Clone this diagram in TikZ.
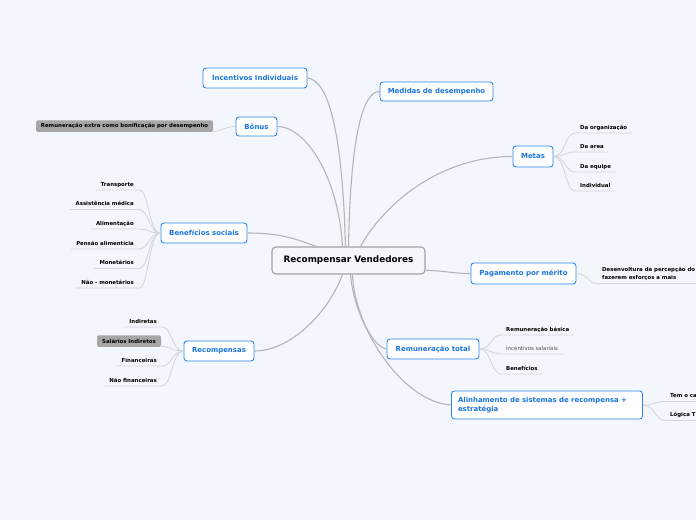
\documentclass[tikz,border=0pt]{standalone}
\usepackage{fontspec}
\setmainfont{DejaVu Sans}
\usetikzlibrary{calc}
\definecolor{bg}{RGB}{243,246,253}
\definecolor{topicblue}{RGB}{24,116,220}
\definecolor{borderblue}{RGB}{45,135,235}
\definecolor{connc}{RGB}{180,180,186}
\definecolor{leafc}{RGB}{212,214,222}
\definecolor{graybox}{RGB}{166,166,166}
\definecolor{cenborder}{RGB}{160,160,166}
\begin{document}
\begin{tikzpicture}[x=1pt,y=-1pt,
  topic/.style={draw=borderblue, line width=0.9pt, fill=white, rounded corners=3pt,
    text=topicblue, font=\fontsize{6.95}{8.6}\selectfont\bfseries, inner sep=0pt},
  central/.style={draw=cenborder, line width=1.1pt, fill={rgb,255:red,246;green,247;blue,251},
    rounded corners=4pt, font=\fontsize{8.85}{10}\selectfont\bfseries, inner sep=0pt,
    minimum width=153pt, minimum height=27pt},
  leaf/.style={font=\fontsize{5.4}{7.8}\selectfont\bfseries, text height=4pt, text depth=1.2pt,
    inner xsep=5pt, inner ysep=2.5pt},
  grayleaf/.style={fill=graybox, rounded corners=1.5pt, font=\fontsize{5.4}{6}\selectfont\bfseries,
    inner sep=0pt},
  conn/.style={draw=connc, line width=1.1pt},
  lconn/.style={draw=leafc, line width=0.9pt}
]
\useasboundingbox (0,0) rectangle (696,520);
\clip (0,0) rectangle (696,520);
\fill[bg] (0,0) rectangle (696,520);

% central
\node[central] (cen) at (348.5,260.5) {Recompensar Vendedores};
\coordinate (ctop) at ($(cen.north)+(-3,0)$);
\coordinate (ctopl) at ($(cen.north)+(-6,0)$);
\coordinate (ctopr) at ($(cen.north)+(0,0)$);
\coordinate (cben) at ($(cen.north west)+(45,0)$);
\coordinate (cmet) at ($(cen.north)+(12,0)$);
\coordinate (cright) at ($(cen.east)+(0,10)$);
\coordinate (cbot) at ($(cen.south)+(2,0)$);
\coordinate (cbotl) at ($(cen.south)+(-6,0)$);
\coordinate (cbotr) at ($(cen.south)+(4,0)$);

% topics
\node[topic, minimum width=104pt, minimum height=20pt] (inc) at (255,78) {Incentivos Individuais};
\node[topic, minimum width=113pt, minimum height=19pt] (med) at (436.5,91.5) {Medidas de desempenho};
\node[topic, minimum width=41pt, minimum height=19pt] (bon) at (256.5,126.5) {Bônus};
\node[topic, minimum width=40pt, minimum height=21pt] (met) at (533,156.5) {Metas};
\node[topic, minimum width=86pt, minimum height=20pt] (ben) at (204,233) {Benefícios sociais};
\node[topic, minimum width=105pt, minimum height=21pt] (pag) at (523.5,273.5) {Pagamento por mérito};
\node[topic, minimum width=70pt, minimum height=20pt] (rec) at (219,351) {Recompensas};
\node[topic, minimum width=92pt, minimum height=20pt] (rem) at (433,349) {Remuneração total};
\node[topic, minimum width=191pt, minimum height=28pt, align=left, text width=178pt] (ali) at (547,405)
  {Alinhamento de sistemas de recompensa +\\estratégia};

% main connectors
\draw[conn] (inc.east) .. controls +(22,2) and +(-3,-110) .. (ctop);
\draw[conn] (med.west) .. controls +(-18,0) and +(2,-105) .. (ctopr);
\draw[conn] (bon.east) .. controls +(28,0) and +(-4,-70) .. (ctopl);
\draw[conn] (ben.east) .. controls +(32,0) and +(-22,-8) .. (cben);
\draw[conn] (met.west) .. controls +(-75,0) and +(22,-40) .. (cmet);
\draw[conn] (cright) .. controls +(20,0) and +(-20,0) .. (pag.west);
\draw[conn] (rec.east) .. controls +(35,0) and +(-15,40) .. (cbotl);
\draw[conn] (rem.west) .. controls +(-14,-2) and +(3,35) .. (cbot);
\draw[conn] (ali.west) .. controls +(-48,-3) and +(2,55) .. (cbotr);

% Bonus leaf
\node[grayleaf, minimum width=177pt, minimum height=11.5pt] (bl) at (124.5,126) {Remuneração extra como bonificação por desempenho};
\draw[lconn] (bon.west) .. controls +(-10,0) and +(8,0) .. ($(bl.south east)+(0,-0.5)$);

% Metas leaves
\node[leaf, anchor=south west] (m1) at (575,133) {Da organização};
\node[leaf, anchor=south west] (m2) at (575,152) {Da area};
\node[leaf, anchor=south west] (m3) at (575,172) {Da equipe};
\node[leaf, anchor=south west] (m4) at (575,191) {Individual};
\foreach \l in {m1,m2,m3,m4}{
  \draw[lconn] (met.east) .. controls +(12,0) and +(-10,0) .. (\l.south west) -- (\l.south east);
}

% Beneficios leaves
\node[leaf, anchor=south east] (b1) at (139,190) {Transporte};
\node[leaf, anchor=south east] (b2) at (139,209.5) {Assistência médica};
\node[leaf, anchor=south east] (b3) at (139,229) {Alimentação};
\node[leaf, anchor=south east] (b4) at (139,249) {Pensão alimentícia};
\node[leaf, anchor=south east] (b5) at (139,268.5) {Monetários};
\node[leaf, anchor=south east] (b6) at (139,288) {Não - monetários};
\foreach \l in {b1,b2,b3,b4,b5,b6}{
  \draw[lconn] (ben.west) .. controls +(-12,0) and +(10,0) .. (\l.south east) -- (\l.south west);
}

% Recompensas leaves
\node[leaf, anchor=south east] (r1) at (162,327) {Indiretas};
\node[grayleaf, minimum width=64pt, minimum height=11.5pt] (r2) at (129,341) {Salários Indiretos};
\node[leaf, anchor=south east] (r3) at (162,366) {Financeiras};
\node[leaf, anchor=south east] (r4) at (162,386) {Não financeiras};
\foreach \l in {r1,r3,r4}{
  \draw[lconn] (rec.west) .. controls +(-12,0) and +(10,0) .. (\l.south east) -- (\l.south west);
}
\draw[lconn] (rec.west) .. controls +(-12,0) and +(10,0) .. ($(r2.south east)+(0,-0.5)$);

% Pagamento leaf
\node[leaf, anchor=south west, text height=10pt, align=left] (p1) at (597,283.5)
  {Desenvoltura da percepção do\\fazerem esforços a mais};
\draw[lconn] (pag.east) .. controls +(12,0) and +(-10,0) .. (p1.south west) -- ($(p1.south west)+(120,0)$);

% Remuneracao total leaves
\node[leaf, anchor=south west] (t1) at (501,335) {Remuneração básica};
\node[leaf, anchor=south west, font=\fontsize{5.4}{6}\selectfont, text={rgb,255:red,80;green,80;blue,80}] (t2) at (501,354) {Incentivos salariais};
\node[leaf, anchor=south west] (t3) at (501,374) {Benefícios};
\foreach \l in {t1,t2,t3}{
  \draw[lconn] (rem.east) .. controls +(12,0) and +(-10,0) .. (\l.south west) -- (\l.south east);
}

% Alinhamento leaves
\node[leaf, anchor=south west] (a1) at (665,401.5) {Tem o ca};
\node[leaf, anchor=south west] (a2) at (665,420.5) {Lógica T};
\foreach \l in {a1,a2}{
  \draw[lconn] (ali.east) .. controls +(12,0) and +(-10,0) .. (\l.south west) -- ($(\l.south west)+(40,0)$);
}
\end{tikzpicture}
\end{document}
